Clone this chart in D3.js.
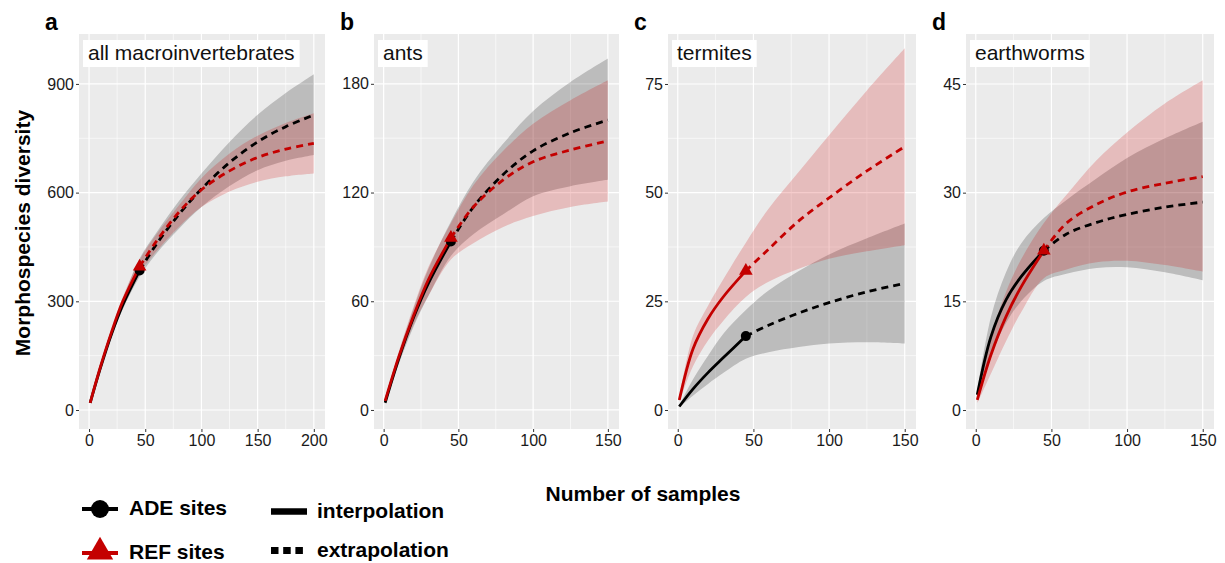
<!DOCTYPE html>
<html>
<head>
<meta charset="utf-8">
<script src="https://cdn.jsdelivr.net/npm/d3@7"></script>
<style>
  body { margin: 0; background: #fff; }
  text { font-family: "Liberation Sans", Arial, sans-serif; }
</style>
</head>
<body>
<svg id="chart" width="1225" height="563"></svg>
<script>
// sample sizes where the curves are read
const xLong = [1, 10, 20, 30, 45, 60, 80, 100, 125, 150, 175, 200];
const xShort = [1, 10, 20, 30, 45, 60, 80, 100, 125, 150];

// a: all macroinvertebrates
const adeA = [20, 115, 210, 290, 385, 458, 540, 610, 683, 740, 782, 814];
const adeLoA = [18, 110, 200, 278, 368, 432, 500, 560, 618, 662, 688, 704];
const adeHiA = [22, 120, 220, 305, 418, 490, 577, 653, 740, 815, 875, 927];
const refA = [20, 118, 215, 300, 396, 466, 546, 608, 660, 697, 720, 736];
const refLoA = [18, 112, 205, 288, 378, 438, 505, 560, 603, 630, 645, 653];
const refHiA = [22, 124, 225, 312, 414, 485, 565, 640, 708, 757, 792, 819];

// b: ants
const adeB = [4, 28, 51, 70, 93, 112, 130, 143, 153, 160];
const adeLoB = [3, 25, 46, 63, 85, 97, 108, 118, 123.5, 127];
const adeHiB = [5, 31, 56, 78, 104, 126, 147, 165, 181, 194];
const refB = [5, 29, 52, 72, 95, 112, 127, 137, 143.5, 148.5];
const refLoB = [4, 26, 47, 63, 83, 92, 101, 107, 112, 115];
const refHiB = [6, 32, 57, 79, 103, 124, 143, 158, 171, 182];

// c: termites
const adeC = [0.8, 4.8, 8.6, 12.0, 17.0, 19.5, 22.3, 24.7, 27.2, 29.1];
const adeLoC = [0.6, 3.3, 6.0, 8.5, 11.8, 13.3, 14.5, 15.3, 15.6, 15.3];
const adeHiC = [1.0, 7.0, 12.5, 17.5, 23.0, 27.5, 32.0, 35.8, 39.5, 42.9];
const refC = [2.3, 14, 21, 26, 32, 37, 43.5, 48.8, 55, 60.6];
const refLoC = [1.8, 10, 16, 20.5, 26, 29.5, 32.5, 34.8, 36.5, 37.9];
const refHiC = [2.8, 17, 24, 30, 38.5, 46.3, 54.8, 63.2, 73.5, 83.2];

// d: earthworms
const adeD = [2.1, 10.1, 15.2, 18.4, 22.0, 24.3, 25.9, 27.0, 28.0, 28.7];
const adeLoD = [1.5, 7.5, 12, 15, 17.8, 18.8, 19.6, 19.7, 19.0, 17.9];
const adeHiD = [2.7, 12.8, 19.0, 23.0, 26.5, 29.0, 32.0, 34.8, 37.5, 39.8];
const refD = [1.4, 7.6, 12.9, 17.0, 22.0, 25.8, 28.4, 30.1, 31.3, 32.2];
const refLoD = [0.9, 5, 9.5, 13.5, 18.2, 19.4, 20.4, 20.6, 20.0, 19.1];
const refHiD = [1.9, 10.2, 16.3, 20.8, 25.8, 29.7, 34.5, 38.3, 42.3, 45.5];

const letters = ["a", "b", "c", "d"];
const groups = ["all macroinvertebrates", "ants", "termites", "earthworms"];
const xTicksA = [0, 50, 100, 150, 200];
const xTicksS = [0, 50, 100, 150];
const yTicksA = [0, 300, 600, 900];
const yTicksB = [0, 60, 120, 180];
const yTicksC = [0, 25, 50, 75];
const yTicksD = [0, 15, 30, 45];
const observedN = 45;

const panels = [
    { x: xLong, ade: adeA, adeLo: adeLoA, adeHi: adeHiA, ref: refA, refLo: refLoA, refHi: refHiA,
      xt: xTicksA, yt: yTicksA, left: 79, right: 325, xd: [-8.95, 209.95], yd: [-52.4, 1037.8] },
    { x: xShort, ade: adeB, adeLo: adeLoB, adeHi: adeHiB, ref: refB, refLo: refLoB, refHi: refHiB,
      xt: xTicksS, yt: yTicksB, left: 374, right: 619, xd: [-6.45, 157.45], yd: [-10.5, 207.5] },
    { x: xShort, ade: adeC, adeLo: adeLoC, adeHi: adeHiC, ref: refC, refLo: refLoC, refHi: refHiC,
      xt: xTicksS, yt: yTicksC, left: 668, right: 916, xd: [-6.45, 157.45], yd: [-4.37, 86.5] },
    { x: xShort, ade: adeD, adeLo: adeLoD, adeHi: adeHiD, ref: refD, refLo: refLoD, refHi: refHiD,
      xt: xTicksS, yt: yTicksD, left: 966, right: 1214, xd: [-6.45, 157.45], yd: [-2.62, 51.9] }
];

const svg = d3.select("#chart");
const plotTop = 34, plotBottom = 429;
const black = "#000000", red = "#c40000";
const smooth = d3.curveCatmullRom.alpha(0.5);

panels.forEach((p, i) => {
    const x = d3.scaleLinear().domain(p.xd).range([p.left, p.right]);
    const y = d3.scaleLinear().domain(p.yd).range([plotBottom, plotTop]);
    const g = svg.append("g");

    // background + grid
    g.append("rect")
        .attr("x", p.left).attr("y", plotTop)
        .attr("width", p.right - p.left).attr("height", plotBottom - plotTop)
        .attr("fill", "#ebebeb");

    const xStep = p.xt[1] - p.xt[0], yStep = p.yt[1] - p.yt[0];
    const xMinor = d3.range(p.xt[0] + xStep / 2, p.xd[1], xStep);
    const yMinor = d3.range(p.yt[0] + yStep / 2, p.yd[1], yStep);

    g.selectAll(".xminor").data(xMinor).join("line")
        .attr("x1", d => x(d)).attr("x2", d => x(d))
        .attr("y1", plotTop).attr("y2", plotBottom)
        .attr("stroke", "#fff").attr("stroke-width", 0.6);
    g.selectAll(".yminor").data(yMinor).join("line")
        .attr("x1", p.left).attr("x2", p.right)
        .attr("y1", d => y(d)).attr("y2", d => y(d))
        .attr("stroke", "#fff").attr("stroke-width", 0.6);
    g.selectAll(".xmajor").data(p.xt).join("line")
        .attr("x1", d => x(d)).attr("x2", d => x(d))
        .attr("y1", plotTop).attr("y2", plotBottom)
        .attr("stroke", "#fff").attr("stroke-width", 1.2);
    g.selectAll(".ymajor").data(p.yt).join("line")
        .attr("x1", p.left).attr("x2", p.right)
        .attr("y1", d => y(d)).attr("y2", d => y(d))
        .attr("stroke", "#fff").attr("stroke-width", 1.2);

    // ribbons
    const rows = p.x.map((n, k) => ({
        n, ade: p.ade[k], adeLo: p.adeLo[k], adeHi: p.adeHi[k],
        ref: p.ref[k], refLo: p.refLo[k], refHi: p.refHi[k]
    }));
    const band = (lo, hi) => d3.area()
        .x(d => x(d.n)).y0(d => y(d[lo])).y1(d => y(d[hi]))
        .curve(smooth);

    g.append("path").datum(rows)
        .attr("d", band("adeLo", "adeHi"))
        .attr("fill", black).attr("fill-opacity", 0.2);
    g.append("path").datum(rows)
        .attr("d", band("refLo", "refHi"))
        .attr("fill", "#cc0000").attr("fill-opacity", 0.2);

    // curves: solid up to the observed sample size, dashed beyond
    const interp = rows.filter(d => d.n <= observedN);
    const extrap = rows.filter(d => d.n >= observedN);
    [["ade", black], ["ref", red]].forEach(([key, col]) => {
        const line = d3.line().x(d => x(d.n)).y(d => y(d[key])).curve(smooth);
        g.append("path").datum(interp).attr("d", line)
            .attr("fill", "none").attr("stroke", col).attr("stroke-width", 2.8);
        g.append("path").datum(extrap).attr("d", line)
            .attr("fill", "none").attr("stroke", col).attr("stroke-width", 2.8)
            .attr("stroke-dasharray", "7,5");
    });

    // observed points
    const obs = rows.find(d => d.n === observedN);
    g.append("circle")
        .attr("cx", x(obs.n)).attr("cy", y(obs.ade)).attr("r", 5)
        .attr("fill", black);
    g.append("path")
        .attr("d", d3.symbol().type(d3.symbolTriangle).size(80)())
        .attr("transform", `translate(${x(obs.n)},${y(obs.ref)})`)
        .attr("fill", red);

    // axes
    const xAxis = g.append("g")
        .attr("transform", `translate(0,${plotBottom})`)
        .call(d3.axisBottom(x).tickValues(p.xt).tickSize(3).tickPadding(3));
    const yAxis = g.append("g")
        .attr("transform", `translate(${p.left},0)`)
        .call(d3.axisLeft(y).tickValues(p.yt).tickSize(3).tickPadding(2));
    [xAxis, yAxis].forEach(a => {
        a.select(".domain").remove();
        a.selectAll("line").attr("stroke", "#333");
        a.selectAll("text").attr("fill", "#1a1a1a").style("font-size", "16px")
            .style("font-family", "'Liberation Sans', Arial, sans-serif");
    });

    // panel letter
    svg.append("text")
        .attr("x", p.left - 34).attr("y", 30)
        .style("font-size", "23px").style("font-weight", "bold")
        .text(letters[i]);

    // group label box
    const lab = g.append("text")
        .attr("x", p.left + 9).attr("y", 60)
        .style("font-size", "21px").attr("fill", "#111")
        .text(groups[i]);
    const bb = lab.node().getBBox();
    g.append("rect")
        .attr("x", bb.x - 5).attr("y", 40)
        .attr("width", bb.width + 10).attr("height", 27)
        .attr("fill", "#fff");
    lab.raise();
});

// titles
svg.append("text")
    .attr("transform", "translate(24,233) rotate(-90)")
    .attr("text-anchor", "middle").attr("dominant-baseline", "middle")
    .style("font-size", "21px").style("font-weight", "bold")
    .text("Morphospecies diversity");

svg.append("text")
    .attr("x", 643).attr("y", 501)
    .attr("text-anchor", "middle")
    .style("font-size", "21px").style("font-weight", "bold")
    .text("Number of samples");

// legend
const legend = svg.append("g");
legend.append("line").attr("x1", 82).attr("x2", 118).attr("y1", 509).attr("y2", 509)
    .attr("stroke", black).attr("stroke-width", 4);
legend.append("circle").attr("cx", 100).attr("cy", 509).attr("r", 9).attr("fill", black);
legend.append("text").attr("x", 129).attr("y", 515)
    .style("font-size", "21px").style("font-weight", "bold").text("ADE sites");

legend.append("line").attr("x1", 82).attr("x2", 118).attr("y1", 553).attr("y2", 553)
    .attr("stroke", red).attr("stroke-width", 4);
legend.append("path")
    .attr("d", d3.symbol().type(d3.symbolTriangle).size(300)())
    .attr("transform", "translate(100,552)")
    .attr("fill", red);
legend.append("text").attr("x", 129).attr("y", 559)
    .style("font-size", "21px").style("font-weight", "bold").text("REF sites");

legend.append("line").attr("x1", 271).attr("x2", 307).attr("y1", 511.5).attr("y2", 511.5)
    .attr("stroke", black).attr("stroke-width", 6.5);
legend.append("text").attr("x", 317).attr("y", 518)
    .style("font-size", "21px").style("font-weight", "bold").text("interpolation");

legend.append("line").attr("x1", 271).attr("x2", 303).attr("y1", 550.5).attr("y2", 550.5)
    .attr("stroke", black).attr("stroke-width", 7).attr("stroke-dasharray", "7.5,4.7");
legend.append("text").attr("x", 317).attr("y", 557)
    .style("font-size", "21px").style("font-weight", "bold").text("extrapolation");
</script>
</body>
</html>
